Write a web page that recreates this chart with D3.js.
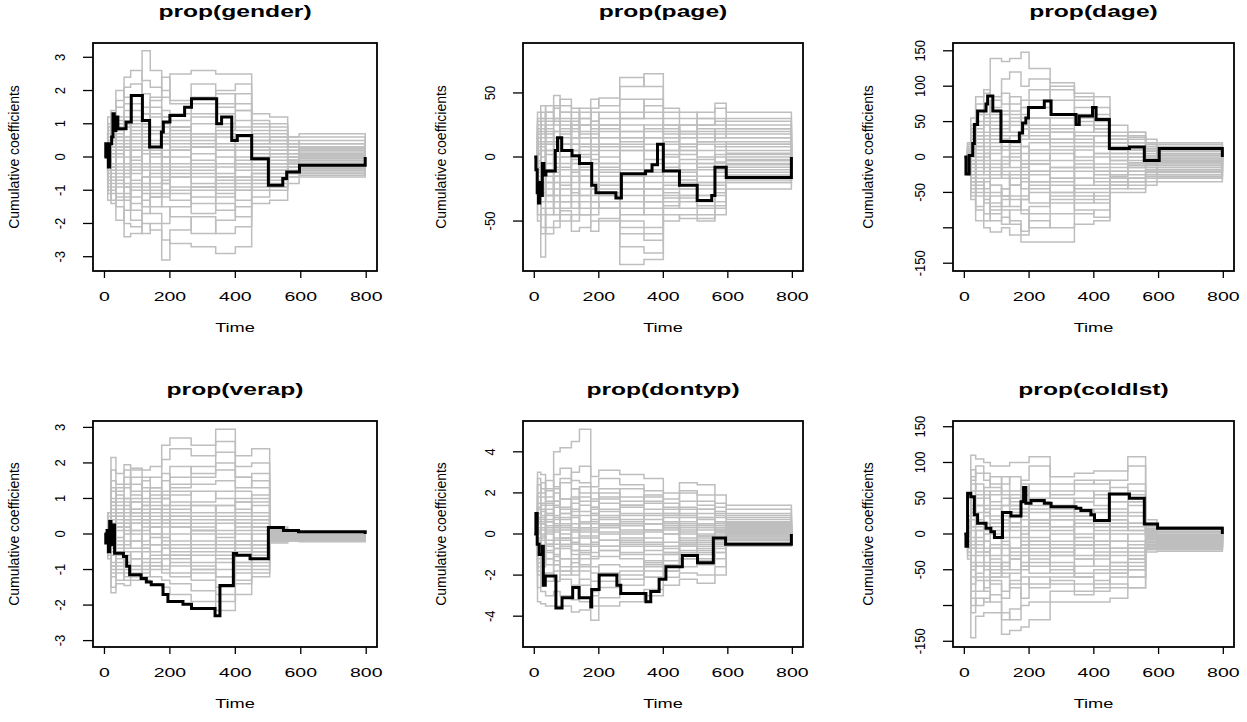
<!DOCTYPE html>
<html>
<head>
<meta charset="utf-8">
<script src="https://cdn.jsdelivr.net/npm/d3@7"></script>
<style>
  body { margin: 0; background: #fff; }
  text { font-family: "Liberation Sans", Arial, Helvetica, sans-serif; fill: #000; }
</style>
</head>
<body>
<svg id="chart" width="1247" height="722"></svg>
<script>
// Event times shared by the simulated (gray) processes
const simTimes = [0, 10, 20, 35, 60, 80, 115, 140, 175, 200, 265, 340, 400, 450, 505, 560, 595, 797]

// ---- prop(gender)
const genderObsTime  = [0, 4, 8, 12, 16, 22, 26, 30, 35, 41, 66, 82, 116, 138, 174, 180, 200, 245, 266, 343, 358, 389, 406, 450, 501, 545, 557, 596, 797]
const genderObsValue = [0, 0.4, 0.0, -0.3, 0.4, 0.6, 1.3, 0.8, 1.2, 0.85, 1.05, 1.85, 1.1, 0.3, 0.75, 1.05, 1.25, 1.5, 1.75, 1.0, 1.2, 0.5, 0.65, -0.05, -0.85, -0.65, -0.45, -0.25, 0]
const genderSims = [
  [0, 0.4, 0.9, 1.5, 2.4, 2.6, 2.3, 2.1, 1.8, 2.5, 2.6, 2.5, 2.5, 1.3, 1.2, 0.6, 0.7, 0],
  [0, -0.5, -1.0, -1.5, -2.4, -2.3, -2.0, -2.2, -2.5, -2.6, -2.7, -2.9, -2.7, -1.4, -1.3, -0.8, -0.6, 0],
  [0, 0.8, 1.3, 1.0, 1.6, 1.2, 3.2, 2.6, 2.0, 1.7, 2.2, 1.9, 1.6, 1.0, 0.8, 0.5, 0.4, 0],
  [0, -0.9, -1.3, -0.8, -1.3, -1.6, -2.3, -2.0, -3.1, -2.2, -1.8, -2.3, -2.1, -1.0, -0.9, -0.5, -0.4, 0],
  [0, 0.3, 0.5, 0.9, 1.4, 0.9, 0.6, 1.2, 1.4, 0.8, 1.0, 1.5, 1.9, 0.9, 1.0, 0.4, 0.3, 0],
  [0, -0.2, -0.6, -0.3, -0.8, -1.2, -0.6, -0.9, -1.5, -1.8, -2.3, -1.9, -1.5, -0.7, -0.6, -0.3, -0.2, 0],
  [0, 1.2, 0.7, 2.0, 1.8, 1.0, 1.5, 0.8, 0.4, 0.9, 0.5, 0.9, 1.1, 0.5, 0.4, 0.2, 0.2, 0],
  [0, -1.3, -0.8, -1.9, -1.6, -0.8, -1.1, -1.5, -1.0, -1.3, -0.9, -1.4, -1.8, -1.2, -1.0, -0.6, -0.5, 0],
  [0, 0.1, 0.2, 0.5, 0.3, 0.6, 1.0, 1.7, 2.4, 1.6, 1.8, 1.3, 0.8, 0.4, 0.5, 0.3, 0.1, 0],
  [0, -0.1, 0.3, -0.4, 0.2, -0.5, -0.2, 0.4, -0.3, -0.6, -0.3, 0.2, -0.4, -0.2, -0.1, 0.0, -0.1, 0],
  [0, 0.6, 1.1, 0.4, 0.9, 1.6, 0.8, 0.3, 0.7, 0.2, -0.4, -0.2, 0.3, 0.2, 0.3, 0.1, 0.2, 0],
  [0, -0.7, -0.3, -1.1, -0.5, 0.2, -0.4, -0.8, 0.0, 0.5, 0.1, -0.6, -0.9, -0.5, -0.4, -0.2, -0.3, 0],
  [0, 0.5, -0.4, 0.2, -0.9, -1.9, -1.3, -1.7, -2.0, -1.5, -1.0, -0.7, -0.2, -0.3, -0.2, -0.1, -0.2, 0],
  [0, -0.4, 0.6, 1.2, 0.6, 0.4, 0.1, 0.7, 1.0, 1.3, 1.6, 2.0, 2.2, 0.8, 0.6, 0.4, 0.5, 0],
  [0, 0.9, 1.4, 1.7, 2.1, 2.2, 1.9, 1.5, 0.9, 0.6, 0.3, 0.6, 0.5, 0.3, 0.2, 0.1, 0.0, 0],
  [0, -1.0, -1.4, -1.2, -2.0, -2.1, -1.7, -1.2, -0.7, -0.3, -0.6, -1.0, -0.7, -0.4, -0.5, -0.3, -0.4, 0],
  [0, 0.2, -0.2, 0.7, 0.4, -0.1, 0.3, -0.3, 0.5, 0.2, 0.7, 0.4, 0.0, 0.1, 0.0, -0.1, 0.1, 0],
  [0, -0.3, -0.9, -0.6, -1.1, -0.4, 0.5, 0.1, -0.5, 0.0, -0.5, -1.1, -1.3, -0.8, -0.7, -0.4, -0.3, 0],
  [0, 0.7, 0.4, 1.1, 1.2, 0.5, 0.9, 1.3, 0.6, 1.1, 1.3, 1.0, 1.4, 0.7, 0.7, 0.3, 0.3, 0],
  [0, -0.6, -1.1, -0.7, -0.3, -1.0, -1.5, -1.1, -1.2, -0.9, -1.4, -1.6, -1.0, -0.9, -0.8, -0.5, -0.45, 0],
  [0, 0.4, 0.0, 0.6, -0.2, 0.3, 0.7, 0.2, -0.2, 0.4, -0.1, -0.5, -0.1, 0.3, 0.2, 0.2, 0.15, 0],
  [0, -0.3, 0.4, 0.0, 0.6, 1.1, 1.3, 0.9, 1.2, 0.7, 0.4, 0.7, 0.2, -0.1, 0.1, -0.2, -0.05, 0],
  [0, 1.0, 0.3, -0.5, -1.2, -0.9, -0.6, -1.2, -0.8, -1.1, -1.7, -1.2, -0.8, -0.6, -0.9, -0.6, -0.55, 0],
  [0, -0.8, -0.4, 0.3, 1.0, 0.7, 1.3, 1.8, 1.2, 0.9, 1.2, 1.6, 1.4, 1.1, 0.9, 0.6, 0.6, 0],
  [0, 0.2, 0.9, 0.3, 0.0, -0.7, -0.9, -0.4, 0.2, -0.4, -0.8, -0.3, 0.6, 0.4, 0.4, 0.3, 0.25, 0],
  [0, -0.5, 0.1, -0.9, -0.6, -0.2, 0.2, -0.6, -1.1, -0.6, 0.3, 0.8, 0.9, 0.6, 0.5, 0.0, 0.05, 0],
  [0, 0.5, 1.0, 0.6, 1.0, 1.4, 1.0, 0.5, 0.0, -0.5, -0.9, -0.6, -1.0, -0.5, -0.6, -0.3, -0.35, 0],
  [0, -0.2, -0.5, -1.3, -0.9, -1.4, -1.0, -0.5, -0.8, -0.2, 0.3, 0.0, -0.6, -0.4, -0.3, -0.15, -0.25, 0],
  [0, 0.3, 0.6, 0.2, 0.5, 0.2, -0.3, 0.0, 0.4, 0.9, 0.7, 0.3, 0.4, 0.5, 0.6, 0.4, 0.4, 0],
  [0, 0.0, -0.3, 0.1, -0.4, 0.0, 0.4, 0.9, 0.6, 0.3, -0.2, -0.9, -0.6, -0.7, -0.4, -0.2, -0.15, 0],
  [0, 0.9, 0.5, 0.8, 0.3, 0.8, 0.4, -0.2, -0.6, -1.0, -1.2, -0.8, -0.3, 0.0, -0.2, -0.1, 0.0, 0],
  [0, -1.1, -0.7, -0.2, 0.3, -0.3, -0.8, -1.0, -0.4, 0.2, 0.6, 0.2, -0.2, 0.2, 0.1, 0.0, 0.05, 0]
]

// ---- prop(page)
const pageObsTime  = [0, 5, 9, 13, 17, 21, 25, 30, 36, 65, 72, 85, 117, 140, 178, 191, 253, 270, 345, 365, 382, 400, 450, 505, 550, 560, 595, 797]
const pageObsValue = [0, -10, -28, -36, -20, -30, -5, -14, -11, 5, 15, 5, 1, -5, -22, -28, -32, -13, -11, -6, 10, -11, -22, -34, -30, -8, -16, 0]
const pageSims = [
  [0, 30, 40, 28, 48, 40, 35, 30, 38, 46, 55, 65, 35, 30, 30, 42, 35, 0],
  [0, -45, -78, -55, -50, -45, -58, -55, -50, -48, -84, -80, -50, -45, -48, -40, -25, 0],
  [0, 20, 10, 35, 30, 45, 38, 25, 45, 40, 62, 55, 38, 35, 25, 30, 20, 0],
  [0, -30, -40, -60, -55, -40, -35, -45, -58, -50, -70, -75, -45, -48, -50, -45, -20, 0],
  [0, 10, 25, 15, 20, 28, 20, 35, 25, 15, 35, 40, 25, 15, 20, 15, 18, 0],
  [0, -15, -25, -10, -30, -25, -40, -30, -20, -30, -55, -60, -38, -30, -35, -30, -15, 0],
  [0, 35, 30, 20, 10, 15, 5, 10, 20, 30, 45, 30, 20, 25, 15, 22, 25, 0],
  [0, -50, -35, -25, -15, -5, -15, -20, -10, -20, -35, -45, -30, -25, -40, -20, -10, 0],
  [0, 5, -10, 5, 15, 25, 10, -5, 10, 5, 15, 25, 10, 5, 10, 8, 12, 0],
  [0, -5, 15, 25, 38, 20, 28, 15, 5, -5, -15, -10, 5, 10, 5, 10, 8, 0],
  [0, 15, 35, 30, 25, 10, -5, 5, -15, -25, -45, -30, -20, -15, -25, -15, -5, 0],
  [0, -20, -55, -40, -20, -35, -20, -10, -35, -40, -25, -20, -10, -5, -15, -8, -3, 0],
  [0, 25, 20, 10, -5, 5, 15, 25, 35, 20, 5, 15, 30, 20, 25, 28, 30, 0],
  [0, -10, 5, -20, -40, -50, -45, -35, -25, -10, 5, -5, -15, -25, -20, -25, -18, 0],
  [0, 10, -20, -30, 0, 10, 25, 38, 28, 35, 25, 10, 15, 20, 35, 38, 22, 0],
  [0, -35, -60, -45, -35, -20, -10, 0, 5, 15, 30, 45, 25, 10, 0, -5, 2, 0],
  [0, 5, 30, 40, 28, 35, 30, 18, 15, 25, -10, -25, -5, -10, -5, 2, 5, 0],
  [0, -25, -15, -35, -25, -30, -25, -40, -45, -35, -60, -65, -40, -35, -30, -35, -12, 0],
  [0, 12, 22, 18, 30, 22, 15, 20, 28, 22, 30, 35, 22, 18, 22, 18, 22, 0],
  [0, -12, -30, -20, -10, -15, -28, -25, -30, -22, -30, -35, -22, -18, -22, -20, -8, 0],
  [0, 8, 0, 12, 5, -8, -2, 8, -5, 10, 20, 5, -8, -2, -8, -4, 0, 0],
  [0, -8, 8, -5, -12, 0, 10, 25, 18, 8, -5, -15, 0, 15, 12, 15, 15, 0],
  [0, 18, 5, -10, -20, -10, 0, -10, -25, -15, 10, 20, 15, 8, 18, 12, 10, 0],
  [0, -18, -5, 10, 20, 30, 15, 10, 15, 25, 15, 5, -10, -20, -10, -12, -14, 0],
  [0, 3, 12, 22, 15, 5, -10, -15, -5, -12, -20, -12, 12, 25, 30, 25, 28, 0],
  [0, -3, -20, -30, -15, -22, -12, 2, -2, 0, 12, 22, 18, 5, -5, 0, 3, 0],
  [0, 22, 28, 5, 12, 18, 25, 15, 8, -5, -25, -40, -25, -12, -30, -28, -20, 0],
  [0, -28, -45, -30, -45, -35, -30, -15, -20, -28, -40, -25, -28, -32, -38, -22, -6, 0],
  [0, 2, -5, 2, -8, 10, 5, -8, 2, -8, 8, -2, 2, -10, -2, 5, 10, 0],
  [0, 15, 18, 35, 40, 35, 22, 30, 22, 10, 20, 15, 5, 2, 12, 20, 15, 0],
  [0, -22, -28, -12, 5, 0, -5, -30, -40, -30, -15, -35, -32, -40, -45, -38, -16, 0],
  [0, 28, 10, -15, -30, -42, -50, -45, -35, -40, -50, -55, -35, -30, -20, -10, -2, 0]
]

// ---- prop(dage)
const dageObsTime  = [0, 5, 15, 26, 31, 41, 67, 72, 88, 113, 170, 180, 190, 198, 247, 268, 345, 355, 396, 407, 448, 510, 556, 602, 797]
const dageObsValue = [0, -24, 2, 19, 46, 65, 75, 86, 65, 22, 34, 48, 55, 70, 79, 60, 46, 58, 70, 53, 12, 14, -5, 12, 0]
const dageSims = [
  [0, 15, 40, 85, 90, 139, 135, 139, 148, 125, 105, 90, 85, 45, 35, 25, 20, 0],
  [0, -20, -60, -90, -100, -106, -100, -110, -120, -120, -120, -95, -90, -50, -50, -40, -35, 0],
  [0, 10, 30, 50, 95, 85, 110, 120, 100, 110, 95, 80, 70, 30, 25, 15, 18, 0],
  [0, -25, -45, -70, -60, -90, -85, -95, -105, -90, -100, -80, -75, -40, -35, -30, -28, 0],
  [0, 5, 20, 40, 60, 70, 90, 75, 80, 95, 60, 70, 55, 35, 30, 20, 15, 0],
  [0, -10, -30, -50, -80, -65, -70, -55, -75, -100, -80, -60, -50, -30, -40, -25, -20, 0],
  [0, 20, 55, 75, 50, 40, 60, 45, 55, 70, 80, 50, 40, 20, 15, 10, 10, 0],
  [0, -15, -5, -30, -45, -40, -55, -70, -60, -50, -40, -55, -60, -45, -30, -20, -15, 0],
  [0, 0, 10, 25, 35, 20, 10, 30, 40, 25, 40, 30, 20, 10, 5, 0, 5, 0],
  [0, -5, -20, -10, -25, -10, -30, -20, -10, -25, -15, -30, -20, -10, -15, -10, -8, 0],
  [0, 8, 15, 5, -10, -25, -15, 0, 15, 5, -5, 10, 5, -5, 0, -5, -3, 0],
  [0, -8, 5, 20, 10, 25, 40, 55, 30, 45, 20, 35, 45, 25, 20, 15, 12, 0],
  [0, 12, 35, 60, 75, 55, 30, 10, -5, -20, -35, -20, -10, 0, -5, -8, -12, 0],
  [0, -18, -40, -55, -35, -50, -75, -90, -110, -80, -60, -40, -30, -20, -25, -20, -25, 0],
  [0, 3, -10, -35, -55, -80, -60, -40, -30, -45, -65, -75, -85, -35, -45, -35, -30, 0],
  [0, -3, 25, 15, 25, 45, 65, 85, 60, 80, 100, 85, 60, 30, 35, 20, 10, 0],
  [0, 6, -35, -20, 5, 15, -5, -15, -25, -5, 10, -5, -15, -15, -10, -12, -5, 0],
  [0, -12, -50, -75, -90, -70, -45, -25, -45, -65, -50, -30, -40, -25, -20, -15, -18, 0],
  [0, 10, 25, 45, 55, 60, 50, 65, 70, 55, 45, 55, 35, 25, 20, 12, 8, 0],
  [0, -10, -25, -40, -65, -55, -45, -60, -80, -70, -55, -45, -45, -30, -30, -22, -25, 0],
  [0, 5, 12, 30, 20, 35, 25, 15, 25, 35, 25, 20, 30, 15, 10, 5, 2, 0],
  [0, -5, -15, -25, -15, -30, -20, -40, -35, -20, -30, -15, -35, -25, -20, -18, -15, 0],
  [0, 15, 45, 30, 45, 80, 75, 60, 45, 30, 15, 0, -20, -35, -30, -25, -22, 0],
  [0, -15, -30, -5, 15, -5, -25, -40, -55, -35, -15, 15, 30, 20, 15, 8, 5, 0],
  [0, 2, 0, 10, -20, -40, -55, -30, -10, 10, 25, 45, 50, 10, 5, -2, 0, 0],
  [0, -2, 15, 35, 45, 30, 45, 35, 15, -10, -30, -50, -65, -40, -35, -28, -30, 0],
  [0, 8, -5, -15, 0, 10, 25, 20, 5, 20, 35, 25, 15, 5, 10, 8, 3, 0],
  [0, -8, -35, -45, -30, -20, 0, 20, 40, 55, 35, 15, 0, -5, -8, -5, -10, 0],
  [0, 18, 30, 15, 5, -15, -10, 5, -15, -35, -50, -65, -55, -28, -15, -10, -6, 0],
  [0, -18, -55, -35, -50, -75, -95, -75, -60, -40, -20, -10, 5, 5, 0, 2, -2, 0],
  [0, 5, 5, -5, 30, 50, 35, 50, 70, 40, 55, 60, 40, 20, 28, 18, 15, 0],
  [0, -6, -10, 0, -5, 5, 15, -5, -20, -10, 5, -15, -25, -20, -12, -15, -20, 0]
]

// ---- prop(verap)
const verapObsTime  = [0, 4, 8, 12, 16, 20, 25, 31, 58, 68, 77, 112, 128, 143, 179, 194, 240, 266, 338, 353, 394, 404, 445, 501, 547, 593, 797]
const verapObsValue = [0, -0.25, 0.1, -0.5, 0.35, -0.3, 0.25, -0.54, -0.63, -0.91, -1.15, -1.25, -1.35, -1.43, -1.7, -1.9, -1.98, -2.1, -2.3, -1.45, -0.55, -0.6, -0.7, 0.18, 0.1, 0.06, 0]
const verapSims = [
  [0, 0.6, 2.15, 1.7, 1.95, 1.85, 1.8, 1.9, 2.5, 2.7, 2.5, 2.95, 2.2, 2.4, 0.2, 0.1, 0.05, 0],
  [0, -0.7, -1.5, -1.4, -1.45, -1.3, -1.3, -1.4, -1.5, -1.7, -1.9, -2.15, -1.7, -1.2, -0.25, -0.2, -0.2, 0],
  [0, 0.3, 1.8, 1.4, 1.6, 1.2, 1.5, 1.6, 2.1, 2.4, 2.2, 2.6, 1.9, 2.0, 0.15, 0.05, 0.03, 0],
  [0, -0.4, -1.65, -1.1, -1.2, -1.0, -0.9, -1.2, -1.3, -1.4, -1.6, -1.9, -1.4, -1.1, -0.2, -0.18, -0.16, 0],
  [0, 0.2, 1.2, 0.9, 1.3, 1.6, 1.2, 1.0, 1.5, 1.9, 1.7, 2.0, 1.6, 1.7, 0.1, 0.0, -0.02, 0],
  [0, -0.2, -0.8, -0.6, -0.9, -1.1, -0.7, -0.9, -1.0, -0.8, -1.1, -1.5, -1.1, -0.8, -0.15, -0.12, -0.13, 0],
  [0, 0.5, 1.5, 1.1, 0.8, 0.6, 0.9, 1.3, 1.0, 1.3, 1.4, 1.5, 1.2, 1.0, 0.05, -0.02, -0.05, 0],
  [0, -0.5, -1.2, -0.9, -0.5, -0.7, -1.1, -0.6, -0.4, -0.6, -0.8, -1.0, -0.9, -0.6, -0.1, -0.08, -0.1, 0],
  [0, 0.1, 0.6, 0.4, 0.5, 0.9, 0.6, 0.3, 0.7, 0.9, 0.6, 0.8, 0.9, 0.4, 0.0, -0.05, -0.08, 0],
  [0, -0.1, 0.2, -0.2, 0.3, 0.1, -0.3, -0.1, 0.2, -0.2, 0.1, -0.3, 0.3, 0.1, -0.05, -0.1, -0.12, 0],
  [0, 0.4, 1.0, 1.3, 1.8, 1.4, 1.0, 0.7, 0.4, 0.2, 0.5, 0.8, 0.5, 0.6, 0.08, 0.02, 0.0, 0],
  [0, -0.3, -0.5, -1.0, -1.3, -0.9, -0.5, -0.3, 0.0, 0.4, 0.1, -0.2, -0.5, -0.3, -0.18, -0.15, -0.18, 0],
  [0, 0.2, 0.9, 0.5, 0.2, 0.4, 0.2, 0.5, 1.2, 1.6, 1.9, 2.3, 1.6, 1.3, 0.12, 0.04, 0.02, 0],
  [0, -0.3, -0.3, 0.2, 0.6, 0.9, 1.3, 0.9, 0.5, 0.7, 0.9, 1.2, 0.7, 0.8, 0.03, -0.06, -0.07, 0],
  [0, 0.0, 0.4, 0.7, 1.0, 1.8, 1.6, 1.3, 1.7, 1.2, 0.8, 0.4, 0.3, 0.2, -0.08, -0.12, -0.14, 0],
  [0, -0.6, -1.0, -1.3, -1.0, -1.2, -0.8, -1.0, -0.7, -1.1, -1.3, -1.7, -1.3, -1.0, -0.22, -0.2, -0.22, 0],
  [0, 0.3, -0.2, 0.3, -0.2, -0.4, 0.3, 0.7, 0.3, 0.5, 0.3, 0.0, 0.1, -0.2, -0.12, -0.14, -0.15, 0],
  [0, -0.2, 0.5, 0.8, 0.4, 0.0, -0.2, 0.2, -0.3, 0.0, -0.4, -0.6, -0.2, -0.5, -0.2, -0.16, -0.2, 0],
  [0, 0.3, 0.8, 1.0, 0.7, 1.0, 0.8, 1.1, 0.8, 1.1, 1.2, 1.0, 0.9, 1.1, 0.06, 0.01, -0.01, 0],
  [0, -0.3, -0.9, -0.5, -0.8, -0.5, -1.0, -0.8, -1.1, -1.2, -1.0, -1.2, -0.8, -0.5, -0.14, -0.1, -0.11, 0],
  [0, 0.1, 0.3, 0.1, 0.4, 0.7, 0.4, 0.6, 0.3, 0.6, 0.8, 0.5, 0.2, 0.4, 0.02, -0.04, -0.06, 0],
  [0, -0.1, -0.4, -0.1, -0.4, -0.2, -0.4, -0.5, -0.2, -0.4, -0.6, -0.8, -0.6, -0.3, -0.1, -0.1, -0.09, 0],
  [0, 0.4, 1.3, 0.6, 0.2, -0.2, 0.1, -0.3, -0.6, -0.3, 0.2, 0.6, 1.0, 0.5, 0.01, -0.03, -0.04, 0],
  [0, -0.4, -1.1, -0.3, 0.3, 0.6, 0.3, 0.0, 0.4, 0.2, -0.2, -0.5, -0.8, -0.7, -0.16, -0.13, -0.14, 0],
  [0, 0.2, 0.0, 0.5, 1.0, 0.7, 0.4, 0.8, 1.1, 0.8, 0.4, 0.1, -0.3, 0.0, -0.04, -0.08, -0.1, 0],
  [0, -0.2, -0.2, -0.7, -0.3, 0.1, 0.5, 0.2, -0.1, -0.5, -0.9, -1.2, -1.0, -0.9, -0.18, -0.16, -0.17, 0],
  [0, 0.6, 0.7, 0.2, -0.6, -0.9, -1.2, -0.9, -0.6, -0.9, -0.5, -0.1, 0.4, 0.3, -0.02, -0.06, -0.05, 0],
  [0, -0.5, 0.1, 0.6, 0.9, 0.5, 0.7, 0.4, 0.8, 1.4, 1.6, 1.8, 1.3, 1.5, 0.1, 0.03, 0.01, 0],
  [0, 0.0, -0.6, -0.8, -1.1, -0.7, -0.4, -0.7, -0.9, -0.6, -0.3, 0.3, 0.6, 0.9, 0.04, 0.0, -0.03, 0],
  [0, 0.3, 0.5, 0.3, 0.0, 0.3, 0.0, 0.2, 0.6, 0.3, 0.0, -0.4, -0.2, 0.2, -0.06, -0.09, -0.11, 0],
  [0, -0.2, 0.9, 1.2, 1.4, 1.1, 0.6, 0.0, -0.3, -0.7, -1.0, -0.7, -0.4, -0.2, -0.12, -0.11, -0.13, 0],
  [0, 0.1, -0.9, -0.4, 0.1, 0.3, 0.8, 1.2, 1.0, 0.5, 0.1, 0.4, 0.0, -0.4, -0.19, -0.17, -0.19, 0]
]

// ---- prop(dontyp)
const dontypObsTime  = [0, 5, 9, 15, 25, 28, 34, 67, 86, 119, 139, 175, 178, 201, 256, 268, 346, 361, 387, 408, 459, 506, 555, 593, 797]
const dontypObsValue = [0, 1.0, -0.5, -1.0, -0.6, -2.5, -2.05, -3.6, -3.1, -2.6, -3.1, -3.55, -2.7, -2.0, -2.5, -2.9, -3.3, -2.8, -2.2, -1.6, -1.05, -1.4, -0.2, -0.5, 0]
const dontypSims = [
  [0, 3.0, 2.9, 2.2, 4.0, 4.2, 4.5, 5.1, 2.8, 3.1, 2.9, 2.7, 2.0, 2.5, 2.4, 1.9, 1.4, 0],
  [0, -3.3, -3.4, -3.5, -3.5, -3.5, -3.8, -3.7, -4.2, -3.5, -3.3, -3.0, -2.5, -2.2, -2.4, -2.0, -0.6, 0],
  [0, 2.0, 2.5, 1.8, 2.9, 3.2, 2.6, 2.5, 2.3, 2.7, 2.4, 2.1, 1.7, 2.1, 1.9, 1.5, 1.0, 0],
  [0, -2.0, -2.8, -3.0, -2.8, -3.0, -3.2, -3.3, -3.5, -3.1, -2.9, -2.7, -2.1, -1.9, -2.0, -1.6, -0.4, 0],
  [0, 1.2, 1.8, 1.4, 2.0, 1.7, 2.2, 2.0, 1.7, 2.2, 1.8, 1.6, 1.2, 1.6, 1.4, 1.1, 0.9, 0],
  [0, -1.2, -1.9, -2.3, -1.8, -2.2, -2.5, -2.2, -2.8, -2.3, -2.2, -1.8, -1.5, -1.2, -1.5, -1.2, -0.3, 0],
  [0, 0.8, 0.5, 0.9, 1.3, 0.7, 1.1, 1.4, 0.9, 1.5, 1.0, 0.9, 0.6, 0.8, 1.0, 0.8, 0.7, 0],
  [0, -0.8, -1.2, -0.9, -1.3, -1.6, -1.2, -1.6, -1.9, -1.5, -1.6, -1.3, -1.0, -0.8, -0.9, -0.7, -0.1, 0],
  [0, 0.3, -0.2, 0.4, 0.7, 0.2, 0.5, -0.1, 0.3, 0.7, 0.4, 0.2, 0.0, 0.3, 0.5, 0.4, 0.5, 0],
  [0, -0.4, 0.3, -0.3, -0.7, -0.3, -0.8, -0.5, -0.2, -0.6, -0.9, -0.5, -0.4, -0.2, -0.4, -0.2, 0.1, 0],
  [0, 2.4, 1.2, 0.6, 0.1, 0.8, 0.3, 0.9, 1.3, 0.5, 0.1, 0.5, 0.9, 1.3, 0.7, 0.6, 0.4, 0],
  [0, -2.6, -1.4, -0.5, 0.4, -0.5, 0.2, -0.2, -0.9, -1.1, -0.5, 0.1, 0.4, -0.4, -0.1, 0.1, 0.2, 0],
  [0, 1.5, 0.8, -0.5, -1.0, -1.8, -1.4, -0.8, 0.2, 0.9, 1.6, 1.9, 1.3, 2.0, 1.6, 1.3, 1.2, 0],
  [0, -1.6, -0.6, 0.7, 1.4, 2.5, 3.0, 3.3, 2.0, 1.2, 0.6, 1.0, 0.5, -0.6, -1.0, -0.5, 0.0, 0],
  [0, 0.6, 1.5, 2.1, 1.6, 1.0, 1.8, 1.1, 0.6, 0.0, -0.6, -1.0, -1.5, -1.0, -0.5, -0.3, 0.3, 0],
  [0, -0.2, -0.9, -1.5, -2.3, -2.0, -1.6, -2.5, -3.0, -2.6, -2.0, -1.5, -0.9, 0.0, 0.5, 0.2, 0.6, 0],
  [0, 0.1, 0.9, 1.2, 0.5, 0.0, -0.5, 0.3, -0.4, -0.8, -1.2, -2.1, -1.8, -1.6, -1.3, -0.9, -0.2, 0],
  [0, -0.9, -0.1, 0.2, 0.9, 1.3, 0.8, 0.3, 1.0, 1.7, 2.2, 1.5, 1.0, 0.9, 1.2, 1.0, 0.8, 0],
  [0, 1.0, 1.4, 1.0, 1.6, 1.2, 1.5, 1.8, 1.2, 1.8, 1.4, 1.2, 1.0, 1.2, 1.2, 0.9, 0.6, 0],
  [0, -1.0, -1.6, -1.2, -1.5, -1.8, -2.0, -1.8, -2.3, -1.9, -1.8, -1.6, -1.3, -1.0, -1.2, -0.9, -0.25, 0],
  [0, 0.5, 0.2, 0.6, 0.2, 0.5, 0.1, 0.5, 0.1, 0.3, 0.7, 0.5, 0.3, 0.1, 0.3, 0.2, 0.35, 0],
  [0, -0.6, -0.3, -0.6, -0.2, -0.7, -0.4, -0.9, -0.6, -0.3, -0.4, -0.8, -0.6, -0.5, -0.7, -0.5, -0.05, 0],
  [0, 1.8, 2.2, 1.6, 0.8, 0.3, -0.2, -0.6, -1.2, -0.8, -0.3, 0.2, 0.6, 0.2, 0.0, 0.3, 0.25, 0],
  [0, -1.8, -2.3, -1.9, -1.1, -0.6, 0.2, 0.6, 1.3, 0.8, 0.2, -0.4, -0.9, -0.5, -0.3, -0.4, 0.0, 0],
  [0, 0.2, 0.7, 1.5, 2.2, 2.7, 2.2, 1.6, 1.0, 0.5, 0.9, 0.5, 0.2, 0.6, 0.8, 0.5, 0.55, 0],
  [0, -0.3, -0.7, -1.2, -0.7, -0.2, -0.8, -1.2, -1.6, -2.0, -2.5, -2.1, -1.8, -1.2, -0.6, -0.1, 0.15, 0],
  [0, 0.7, 0.0, -0.8, -1.5, -1.2, -0.5, 0.1, 0.7, 1.1, 1.4, 1.8, 1.5, 1.0, 0.4, 0.6, 0.45, 0],
  [0, -0.5, 0.6, 1.0, 0.4, -0.2, -1.0, -1.5, -1.1, -0.6, 0.0, 0.5, 0.8, 0.4, 0.8, 0.3, 0.3, 0],
  [0, 1.3, 0.5, 0.0, 0.3, 1.0, 1.7, 2.3, 1.6, 2.0, 1.3, 0.7, 0.3, -0.3, 0.2, 0.0, 0.1, 0],
  [0, -1.4, -0.8, 0.1, -0.5, -1.2, -1.8, -1.0, -0.5, 0.1, 0.5, -0.2, -0.7, -0.9, -0.2, -0.6, -0.15, 0],
  [0, 0.0, 1.1, 0.3, -0.3, 0.4, 1.2, 0.6, -0.1, 0.4, -0.2, -0.6, 0.0, 0.5, -0.1, 0.1, 0.2, 0],
  [0, 2.7, 2.0, 2.6, 2.3, 1.7, 0.9, 0.2, 0.5, -0.3, -1.0, -1.4, -1.0, -0.6, -0.8, -0.2, 0.05, 0]
]

// ---- prop(coldist)
const coldistObsTime  = [0, 5, 10, 20, 31, 41, 67, 82, 93, 118, 144, 175, 183, 190, 206, 247, 268, 345, 360, 391, 402, 448, 510, 556, 597, 797]
const coldistObsValue = [0, -17, 57, 52, 27, 15, 8, 3, -5, 30, 25, 45, 65, 43, 47, 43, 38, 36, 33, 27, 19, 56, 50, 14, 8, 0]
const coldistSims = [
  [0, 25, 110, 105, 100, 95, 95, 100, 100, 108, 80, 85, 88, 88, 108, 20, 10, 0],
  [0, -35, -145, -115, -110, -110, -140, -135, -130, -120, -95, -95, -95, -90, -75, -25, -24, 0],
  [0, 15, 80, 95, 85, 70, 80, 60, 75, 95, 70, 75, 70, 75, 95, 15, 6, 0],
  [0, -25, -100, -90, -95, -85, -110, -120, -100, -95, -80, -85, -80, -75, -60, -20, -20, 0],
  [0, 10, 60, 70, 50, 60, 40, 55, 45, 60, 55, 60, 50, 65, 60, 10, 3, 0],
  [0, -20, -70, -60, -75, -65, -80, -70, -60, -75, -65, -70, -70, -60, -50, -15, -18, 0],
  [0, 5, 40, 30, 40, 25, 15, 30, 20, 35, 40, 35, 30, 45, 40, 5, 0, 0],
  [0, -10, -45, -40, -50, -55, -45, -35, -50, -40, -45, -55, -50, -40, -35, -10, -14, 0],
  [0, 2, 20, 10, 15, 5, -5, 10, 5, 15, 20, 10, 15, 20, 15, 0, -3, 0],
  [0, -5, -20, -15, -25, -20, -30, -20, -15, -25, -20, -30, -25, -20, -15, -5, -10, 0],
  [0, 20, 70, 50, 30, 20, 30, 15, 35, 20, 5, 15, 5, 0, -10, 3, -6, 0],
  [0, -30, -110, -80, -65, -40, -55, -75, -90, -70, -60, -45, -35, -25, -20, -12, -20, 0],
  [0, 0, -5, 5, -10, 0, 10, 25, 30, 50, 60, 70, 75, 55, 70, 8, 4, 0],
  [0, -15, -30, -45, -30, -45, -20, -5, -20, -5, -15, -5, 10, 5, 10, -3, -8, 0],
  [0, 8, 30, 55, 65, 80, 60, 45, 25, 10, -20, -35, -45, -55, -45, -18, -22, 0],
  [0, -8, -60, -20, 0, 15, 40, 50, 70, 45, 30, 45, 55, 35, 25, 12, 2, 0],
  [0, 12, 10, -25, -45, -60, -40, -50, -30, -45, -30, -20, -10, 10, 30, 0, -12, 0],
  [0, -3, -40, -65, -80, -95, -120, -105, -70, -60, -70, -80, -65, -70, -75, -22, -16, 0],
  [0, 12, 50, 40, 55, 45, 50, 40, 55, 45, 35, 45, 40, 30, 45, 6, -2, 0],
  [0, -12, -50, -45, -60, -50, -60, -55, -45, -55, -50, -60, -55, -50, -40, -14, -16, 0],
  [0, 5, 10, 20, 5, 15, 25, 15, 30, 20, 10, 25, 20, 10, 5, -2, -5, 0],
  [0, -5, -15, -5, -20, -30, -15, -35, -25, -10, -25, -15, -10, -30, -25, -8, -12, 0],
  [0, 18, 90, 60, 30, 10, -10, -25, -45, -30, -10, 20, 35, 25, 45, 4, -4, 0],
  [0, -18, -80, -55, -40, -20, 5, 25, 45, 30, 10, -15, -30, -45, -60, -20, -21, 0],
  [0, 3, 25, 40, 60, 40, 20, 40, 55, 70, 50, 30, 20, -10, -20, -6, -9, 0],
  [0, -3, -10, -30, -45, -70, -90, -65, -40, -20, -40, -60, -75, -55, -30, -16, -19, 0],
  [0, 8, -20, 5, 25, 35, 20, 5, -10, 5, 25, 50, 60, 45, 55, 2, -7, 0],
  [0, -8, 30, 15, -10, -35, -50, -30, -15, -35, -55, -35, -20, -10, 0, -10, -13, 0],
  [0, 15, 35, 15, 35, 55, 70, 80, 60, 40, 20, 0, -15, -20, -35, -12, -15, 0],
  [0, -15, -90, -100, -90, -60, -40, -20, 0, 20, 40, 25, 10, 20, 15, -4, -11, 0],
  [0, 0, 5, -10, -25, -15, 5, 10, -5, -15, 0, -10, -30, -40, -50, -18, -17, 0],
  [0, 20, 75, 85, 75, 65, 55, 35, 10, -10, -30, -15, 0, 15, 5, -1, -1, 0]
]

// Titles and axis ticks
const panelTitles = ['prop(gender)', 'prop(page)', 'prop(dage)', 'prop(verap)', 'prop(dontyp)', 'prop(coldlst)']
const xTicks = [0, 200, 400, 600, 800]
const yTicksUnit = [-3, -2, -1, 0, 1, 2, 3]
const yTicksPage = [-50, 0, 50]
const yTicksBig = [-150, -100, -50, 0, 50, 100, 150]
const yTicksDontyp = [-4, -2, 0, 2, 4]
const yTickLabelsBig = ['-150', '', '-50', '0', '50', '100', '150']

// Layout (pixel boxes of the six plot regions)
const colLeft = [93, 523, 953]
const colRight = [377, 803, 1234]
const colYTitleX = [15, 442, 869]
const rowTop = [43, 421]
const rowBottom = [271, 647]

const panels = [
  {title: panelTitles[0], t: genderObsTime, v: genderObsValue, sims: genderSims, ydom: [-3.43, 3.43], yt: yTicksUnit},
  {title: panelTitles[1], t: pageObsTime, v: pageObsValue, sims: pageSims, ydom: [-89, 89], yt: yTicksPage},
  {title: panelTitles[2], t: dageObsTime, v: dageObsValue, sims: dageSims, ydom: [-161, 161], yt: yTicksBig, ylab: yTickLabelsBig},
  {title: panelTitles[3], t: verapObsTime, v: verapObsValue, sims: verapSims, ydom: [-3.18, 3.18], yt: yTicksUnit},
  {title: panelTitles[4], t: dontypObsTime, v: dontypObsValue, sims: dontypSims, ydom: [-5.5, 5.5], yt: yTicksDontyp},
  {title: panelTitles[5], t: coldistObsTime, v: coldistObsValue, sims: coldistSims, ydom: [-158, 158], yt: yTicksBig, ylab: yTickLabelsBig}
]

const svg = d3.select('#chart')
svg.append('rect').attr('width', 1247).attr('height', 722).attr('fill', '#fff')

// horizontal text, stretched sideways like the original bitmap
let hText = (g, x, y, str, size, sx, bold) => {
  g.append('text')
    .attr('transform', `translate(${x},${y}) scale(${sx},1)`)
    .attr('text-anchor', 'middle')
    .attr('dominant-baseline', 'middle')
    .style('font-size', size + 'px')
    .style('font-weight', bold ? 'bold' : 'normal')
    .text(str)
}
let vText = (g, x, y, str, size, sx) => {
  g.append('text')
    .attr('transform', `translate(${x},${y}) scale(${sx},1) rotate(-90)`)
    .attr('text-anchor', 'middle')
    .attr('dominant-baseline', 'middle')
    .style('font-size', size + 'px')
    .text(str)
}

panels.forEach((p, i) => {
  const col = i % 3, row = Math.floor(i / 3)
  const x0 = colLeft[col], x1 = colRight[col], y0 = rowTop[row], y1 = rowBottom[row]
  const x = d3.scaleLinear().domain([-35, 833]).range([x0, x1])
  const y = d3.scaleLinear().domain(p.ydom).range([y1, y0])
  const g = svg.append('g')

  g.append('clipPath').attr('id', 'clip' + i)
    .append('rect').attr('x', x0).attr('y', y0).attr('width', x1 - x0).attr('height', y1 - y0)

  const line = d3.line().x(d => x(d[0])).y(d => y(d[1])).curve(d3.curveStepAfter)
  const plot = g.append('g').attr('clip-path', `url(#clip${i})`)

  plot.selectAll('path.sim')
    .data(p.sims)
    .enter()
    .append('path')
    .attr('class', 'sim')
    .attr('d', s => line(d3.zip(simTimes, s)))
    .attr('fill', 'none')
    .attr('stroke', '#bebebe')
    .attr('stroke-width', 1.5)

  plot.append('path')
    .attr('d', line(d3.zip(p.t, p.v)))
    .attr('fill', 'none')
    .attr('stroke', '#000')
    .attr('stroke-width', 3)

  // box
  g.append('rect')
    .attr('x', x0).attr('y', y0).attr('width', x1 - x0).attr('height', y1 - y0)
    .attr('fill', 'none').attr('stroke', '#000').attr('stroke-width', 1.8)

  // x axis ticks + labels
  xTicks.forEach(t => {
    g.append('line').attr('x1', x(t)).attr('x2', x(t)).attr('y1', y1).attr('y2', y1 + 7)
      .attr('stroke', '#000').attr('stroke-width', 1.3)
    hText(g, x(t), y1 + 27, t, 13, 1.5, false)
  })
  hText(g, (x0 + x1) / 2, y1 + 58, 'Time', 13, 1.4, false)

  // y axis ticks + labels
  p.yt.forEach((t, k) => {
    g.append('line').attr('x1', x0 - 10).attr('x2', x0).attr('y1', y(t)).attr('y2', y(t))
      .attr('stroke', '#000').attr('stroke-width', 1.3)
    const lab = p.ylab ? p.ylab[k] : String(t)
    if (lab) vText(g, x0 - 32, y(t), lab, 13, 1.15)
  })
  vText(g, colYTitleX[col], (y0 + y1) / 2, 'Cumulative coefficients', 14, 1.0)

  hText(g, (x0 + x1) / 2, y0 - 30, p.title, 17, 1.45, true)
})
</script>
</body>
</html>
